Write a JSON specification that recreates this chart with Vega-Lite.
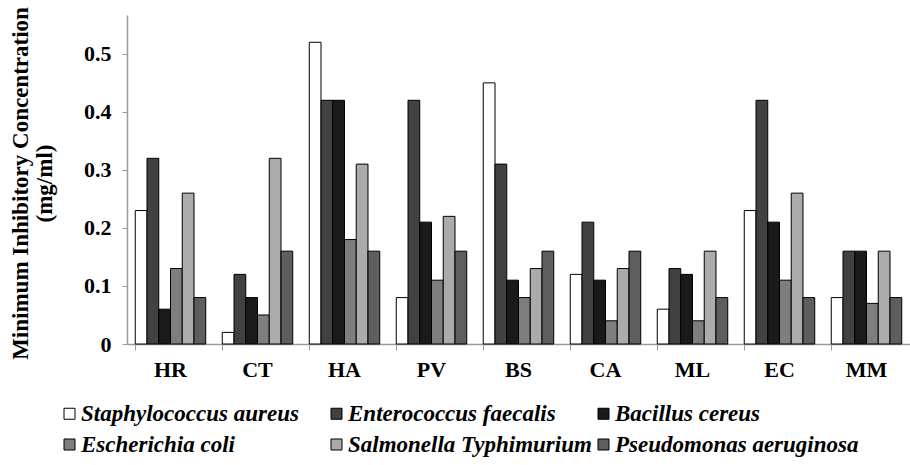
{
  "$schema": "https://vega.github.io/schema/vega-lite/v6.json",
  "autosize": "none",
  "width": 783,
  "height": 329,
  "padding": {"left": 127, "top": 15, "right": 0, "bottom": 121},
  "background": "white",
  "config": {
    "view": {"stroke": null},
    "font": "Liberation Serif",
    "axis": {"grid": false, "domainColor": "#9a9a9a", "tickColor": "#9a9a9a", "labelColor": "black", "titleColor": "black", "labelFont": "Liberation Serif", "titleFont": "Liberation Serif", "labelFontWeight": "bold", "titleFontWeight": "bold"}
  },
  "data": {
    "values": [
      {"extract": "HR", "species": "Staphylococcus aureus", "mic": 0.23},
      {"extract": "HR", "species": "Enterococcus faecalis", "mic": 0.32},
      {"extract": "HR", "species": "Bacillus cereus", "mic": 0.06},
      {"extract": "HR", "species": "Escherichia coli", "mic": 0.13},
      {"extract": "HR", "species": "Salmonella Typhimurium", "mic": 0.26},
      {"extract": "HR", "species": "Pseudomonas aeruginosa", "mic": 0.08},
      {"extract": "CT", "species": "Staphylococcus aureus", "mic": 0.02},
      {"extract": "CT", "species": "Enterococcus faecalis", "mic": 0.12},
      {"extract": "CT", "species": "Bacillus cereus", "mic": 0.08},
      {"extract": "CT", "species": "Escherichia coli", "mic": 0.05},
      {"extract": "CT", "species": "Salmonella Typhimurium", "mic": 0.32},
      {"extract": "CT", "species": "Pseudomonas aeruginosa", "mic": 0.16},
      {"extract": "HA", "species": "Staphylococcus aureus", "mic": 0.52},
      {"extract": "HA", "species": "Enterococcus faecalis", "mic": 0.42},
      {"extract": "HA", "species": "Bacillus cereus", "mic": 0.42},
      {"extract": "HA", "species": "Escherichia coli", "mic": 0.18},
      {"extract": "HA", "species": "Salmonella Typhimurium", "mic": 0.31},
      {"extract": "HA", "species": "Pseudomonas aeruginosa", "mic": 0.16},
      {"extract": "PV", "species": "Staphylococcus aureus", "mic": 0.08},
      {"extract": "PV", "species": "Enterococcus faecalis", "mic": 0.42},
      {"extract": "PV", "species": "Bacillus cereus", "mic": 0.21},
      {"extract": "PV", "species": "Escherichia coli", "mic": 0.11},
      {"extract": "PV", "species": "Salmonella Typhimurium", "mic": 0.22},
      {"extract": "PV", "species": "Pseudomonas aeruginosa", "mic": 0.16},
      {"extract": "BS", "species": "Staphylococcus aureus", "mic": 0.45},
      {"extract": "BS", "species": "Enterococcus faecalis", "mic": 0.31},
      {"extract": "BS", "species": "Bacillus cereus", "mic": 0.11},
      {"extract": "BS", "species": "Escherichia coli", "mic": 0.08},
      {"extract": "BS", "species": "Salmonella Typhimurium", "mic": 0.13},
      {"extract": "BS", "species": "Pseudomonas aeruginosa", "mic": 0.16},
      {"extract": "CA", "species": "Staphylococcus aureus", "mic": 0.12},
      {"extract": "CA", "species": "Enterococcus faecalis", "mic": 0.21},
      {"extract": "CA", "species": "Bacillus cereus", "mic": 0.11},
      {"extract": "CA", "species": "Escherichia coli", "mic": 0.04},
      {"extract": "CA", "species": "Salmonella Typhimurium", "mic": 0.13},
      {"extract": "CA", "species": "Pseudomonas aeruginosa", "mic": 0.16},
      {"extract": "ML", "species": "Staphylococcus aureus", "mic": 0.06},
      {"extract": "ML", "species": "Enterococcus faecalis", "mic": 0.13},
      {"extract": "ML", "species": "Bacillus cereus", "mic": 0.12},
      {"extract": "ML", "species": "Escherichia coli", "mic": 0.04},
      {"extract": "ML", "species": "Salmonella Typhimurium", "mic": 0.16},
      {"extract": "ML", "species": "Pseudomonas aeruginosa", "mic": 0.08},
      {"extract": "EC", "species": "Staphylococcus aureus", "mic": 0.23},
      {"extract": "EC", "species": "Enterococcus faecalis", "mic": 0.42},
      {"extract": "EC", "species": "Bacillus cereus", "mic": 0.21},
      {"extract": "EC", "species": "Escherichia coli", "mic": 0.11},
      {"extract": "EC", "species": "Salmonella Typhimurium", "mic": 0.26},
      {"extract": "EC", "species": "Pseudomonas aeruginosa", "mic": 0.08},
      {"extract": "MM", "species": "Staphylococcus aureus", "mic": 0.08},
      {"extract": "MM", "species": "Enterococcus faecalis", "mic": 0.16},
      {"extract": "MM", "species": "Bacillus cereus", "mic": 0.16},
      {"extract": "MM", "species": "Escherichia coli", "mic": 0.07},
      {"extract": "MM", "species": "Salmonella Typhimurium", "mic": 0.16},
      {"extract": "MM", "species": "Pseudomonas aeruginosa", "mic": 0.08}
    ]
  },
  "mark": {"type": "bar", "stroke": "black", "strokeWidth": 1},
  "encoding": {
    "x": {
      "field": "extract", "type": "nominal", "sort": null,
      "scale": {"paddingInner": 0.19, "paddingOuter": 0.095},
      "axis": {"title": null, "labelAngle": 0, "labelFontSize": 22, "labelPadding": 9, "tickSize": 6, "bandPosition": 0, "domainWidth": 1.5}
    },
    "xOffset": {
      "field": "species", "type": "nominal", "sort": null,
      "scale": {"paddingInner": 0, "paddingOuter": 0}
    },
    "y": {
      "field": "mic", "type": "quantitative",
      "scale": {"domain": [0, 0.567], "nice": false},
      "axis": {
        "values": [0, 0.1, 0.2, 0.3, 0.4, 0.5],
        "labelExpr": "datum.value == 0 ? '0' : format(datum.value, '.1f')",
        "labelFontSize": 22, "labelPadding": 11, "tickSize": 5, "domainWidth": 1.5,
        "title": ["Minimum Inhibitory Concentration", "(mg/ml)"],
        "titleFontSize": 23, "titleAngle": -90, "titleX": -118, "titleY": 168, "titleAlign": "center", "titleBaseline": "top", "titleLineHeight": 24
      }
    },
    "fill": {
      "field": "species", "type": "nominal", "sort": null,
      "scale": {
        "domain": ["Staphylococcus aureus", "Enterococcus faecalis", "Bacillus cereus", "Escherichia coli", "Salmonella Typhimurium", "Pseudomonas aeruginosa"],
        "range": ["#ffffff", "#414141", "#1a1a1a", "#7e7e7e", "#ababab", "#5e5e5e"]
      },
      "legend": {
        "title": null, "orient": "none", "legendX": -69, "legendY": 387,
        "direction": "horizontal", "columns": 3, "gridAlign": "all", "symbolType": "square", "symbolSize": 121,
        "symbolStrokeColor": "black", "symbolStrokeWidth": 1,
        "labelFont": "Liberation Serif", "labelFontSize": 23, "labelFontStyle": "italic", "labelFontWeight": "bold", "labelColor": "black",
        "labelOffset": 0, "columnPadding": 0, "rowPadding": 7, "labelLimit": 400
      }
    }
  }
}
